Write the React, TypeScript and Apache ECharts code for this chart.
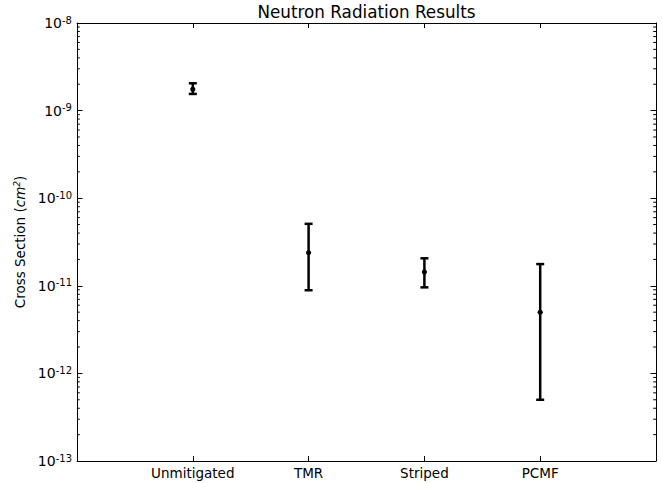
import React, { useEffect, useRef } from "react";
import * as echarts from "echarts";

const categories = ["Unmitigated", "TMR", "Striped", "PCMF"];
const centerValues = [1.75e-9, 2.39e-11, 1.44e-11, 4.98e-12];
const lowerValues = [1.55e-9, 8.9e-12, 9.6e-12, 5.0e-13];
const upperValues = [2.05e-9, 5.1e-11, 2.06e-11, 1.77e-11];
const yMin = 1e-13;
const yMax = 1e-8;
const xPositions = [1, 2, 3, 4];

const FONT = "DejaVu Sans";

export default function App() {
  const ref = useRef<HTMLDivElement>(null);
  useEffect(() => {
    if (!ref.current) return;
    const chart = echarts.init(ref.current, null, { renderer: "svg" });

    const minorValues: number[] = [];
    for (let e = -13; e < -8; e++) {
      for (let m = 2; m <= 9; m++) minorValues.push(m * Math.pow(10, e));
    }

    const errData = categories.map((c, i) => [xPositions[i], lowerValues[i], centerValues[i], upperValues[i]]);

    const yLabelFormatter = (v: number) => {
      const e = Math.round(Math.log10(v));
      return `{b|10}{s|${e}}`;
    };

    const option: any = {
      animation: false,
      backgroundColor: "#fff",
      graphic: [
        {
          type: "text",
          x: 366.5,
          y: 12,
          style: {
            text: "Neutron Radiation Results",
            fontFamily: FONT,
            fontSize: 16.8,
            fill: "#000",
            align: "center",
            verticalAlign: "middle",
          },
        },
      ],
      grid: { left: 77, right: 6, top: 23, bottom: 22, containLabel: false },
      xAxis: [
        {
          type: "value",
          min: 0,
          max: 5,
          interval: 1,
          position: "bottom",
          splitLine: { show: false },
          axisLine: { show: true, onZero: false, lineStyle: { color: "#000", width: 1 } },
          axisTick: { show: true, inside: true, length: 5, customValues: xPositions, lineStyle: { color: "#000" } },
          axisLabel: {
            show: true,
            customValues: xPositions,
            margin: 5,
            fontFamily: FONT,
            fontSize: 13.5,
            color: "#000",
            formatter: (v: number) => categories[Math.round(v) - 1] ?? "",
          },
        },
        {
          type: "value",
          min: 0,
          max: 5,
          interval: 1,
          position: "top",
          splitLine: { show: false },
          axisLine: { show: true, onZero: false, lineStyle: { color: "#000", width: 1 } },
          axisTick: { show: true, inside: true, length: 5, customValues: xPositions, lineStyle: { color: "#000" } },
          axisLabel: { show: false },
        },
      ],
      yAxis: [
        {
          type: "log",
          logBase: 10,
          min: yMin,
          max: yMax,
          position: "left",
          splitLine: { show: false },
          axisLine: { show: true, onZero: false, lineStyle: { color: "#000", width: 1 } },
          axisTick: { show: true, inside: true, length: 5.5, lineStyle: { color: "#000" } },
          axisLabel: {
            margin: 5,
            color: "#000",
            formatter: yLabelFormatter,
            rich: {
              b: { fontFamily: FONT, fontSize: 14, color: "#000", lineHeight: 16 },
              s: { fontFamily: FONT, fontSize: 10, color: "#000", verticalAlign: "top", lineHeight: 10 },
            },
          },
          name: "{n|Cross Section (}{i|cm}{s|2}{n|)}",
          nameLocation: "middle",
          nameGap: 50,
          nameTextStyle: {
            fontFamily: FONT,
            fontSize: 13.5,
            color: "#000",
            rich: {
              n: { fontFamily: FONT, fontSize: 13.5, color: "#000" },
              i: { fontFamily: FONT, fontStyle: "italic", fontSize: 13.5, color: "#000" },
              s: { fontFamily: FONT, fontStyle: "italic", fontSize: 9, color: "#000", verticalAlign: "top" },
            },
          },
        },
        {
          type: "log",
          logBase: 10,
          min: yMin,
          max: yMax,
          position: "right",
          splitLine: { show: false },
          axisLine: { show: true, onZero: false, lineStyle: { color: "#000", width: 1 } },
          axisTick: { show: true, inside: true, length: 5.5, lineStyle: { color: "#000" } },
          axisLabel: { show: false },
        },
      ],
      series: [
        {
          type: "custom",
          name: "minorTicks",
          xAxisIndex: 0,
          yAxisIndex: 0,
          silent: true,
          clip: false,
          data: minorValues.map((v) => [0, v]),
          encode: { x: 0, y: 1 },
          renderItem: (params: any, api: any) => {
            const v = api.value(1);
            const pl = api.coord([0, v]);
            const pr = api.coord([5, v]);
            return {
              type: "group",
              children: [
                { type: "line", shape: { x1: pl[0], y1: pl[1], x2: pl[0] + 2.8, y2: pl[1] }, style: { stroke: "#000", lineWidth: 1 } },
                { type: "line", shape: { x1: pr[0], y1: pr[1], x2: pr[0] - 2.8, y2: pr[1] }, style: { stroke: "#000", lineWidth: 1 } },
              ],
            };
          },
        },
        {
          type: "custom",
          name: "errorbars",
          xAxisIndex: 0,
          yAxisIndex: 0,
          clip: false,
          data: errData,
          encode: { x: 0, y: [1, 2, 3] },
          renderItem: (params: any, api: any) => {
            const x = api.value(0);
            const lo = api.coord([x, api.value(1)]);
            const ce = api.coord([x, api.value(2)]);
            const hi = api.coord([x, api.value(3)]);
            const cw = 4;
            const st = { stroke: "#000", lineWidth: 2.5 };
            return {
              type: "group",
              children: [
                { type: "line", shape: { x1: lo[0], y1: lo[1], x2: hi[0], y2: hi[1] }, style: st },
                { type: "line", shape: { x1: lo[0] - cw, y1: lo[1], x2: lo[0] + cw, y2: lo[1] }, style: st },
                { type: "line", shape: { x1: hi[0] - cw, y1: hi[1], x2: hi[0] + cw, y2: hi[1] }, style: st },
                { type: "circle", shape: { cx: ce[0], cy: ce[1], r: 2.6 }, style: { fill: "#000" } },
              ],
            };
          },
        },
      ],
    };

    chart.setOption(option);
    return () => chart.dispose();
  }, []);

  return (
    <div
      ref={ref}
      style={{ position: "fixed", left: 0, top: 0, width: 662, height: 483, background: "#fff" }}
    />
  );
}
